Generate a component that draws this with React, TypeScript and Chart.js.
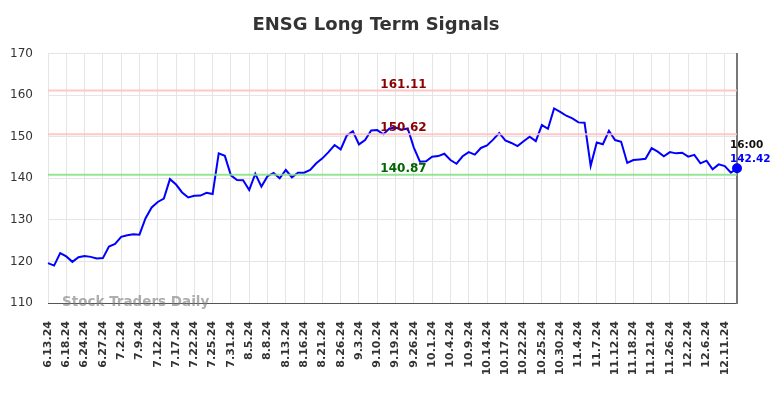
import React, { useEffect, useRef } from "react";
import { Chart, registerables } from "chart.js";

Chart.register(...registerables);

const chartTitle = "ENSG Long Term Signals";
const watermark = "Stock Traders Daily";
const lastTimeLabel = "16:00";

const dates = [
  "6.13.24", "6.14.24", "6.17.24", "6.18.24", "6.20.24", "6.21.24", "6.24.24", "6.25.24", "6.26.24", "6.27.24",
  "6.28.24", "7.1.24", "7.2.24", "7.3.24", "7.5.24", "7.9.24", "7.10.24", "7.11.24", "7.12.24", "7.15.24",
  "7.16.24", "7.17.24", "7.18.24", "7.19.24", "7.22.24", "7.23.24", "7.24.24", "7.25.24", "7.26.24", "7.29.24",
  "7.31.24", "8.1.24", "8.2.24", "8.5.24", "8.6.24", "8.7.24", "8.8.24", "8.9.24", "8.12.24", "8.13.24",
  "8.14.24", "8.15.24", "8.16.24", "8.19.24", "8.20.24", "8.21.24", "8.22.24", "8.23.24", "8.26.24", "8.27.24",
  "8.29.24", "9.3.24", "9.4.24", "9.6.24", "9.10.24", "9.12.24", "9.17.24", "9.19.24", "9.23.24", "9.24.24",
  "9.26.24", "9.27.24", "9.30.24", "10.1.24", "10.2.24", "10.3.24", "10.4.24", "10.7.24", "10.8.24", "10.9.24",
  "10.10.24", "10.11.24", "10.14.24", "10.15.24", "10.16.24", "10.17.24", "10.18.24", "10.21.24", "10.22.24", "10.23.24",
  "10.24.24", "10.25.24", "10.28.24", "10.29.24", "10.30.24", "10.31.24", "11.1.24", "11.4.24", "11.5.24", "11.6.24",
  "11.7.24", "11.8.24", "11.11.24", "11.12.24", "11.13.24", "11.15.24", "11.18.24", "11.19.24", "11.20.24", "11.21.24",
  "11.22.24", "11.25.24", "11.26.24", "11.27.24", "11.29.24", "12.2.24", "12.3.24", "12.4.24", "12.6.24", "12.9.24",
  "12.10.24", "12.11.24", "12.12.24", "12.13.24",
];

const prices = [
  119.6, 119.0, 122.0, 121.2, 119.9, 121.0, 121.3, 121.1, 120.7, 120.8,
  123.6, 124.2, 125.9, 126.3, 126.55, 126.45, 130.4, 133.0, 134.3, 135.1,
  139.8, 138.5, 136.6, 135.4, 135.8, 135.85, 136.5, 136.2, 146.0, 145.4,
  140.7, 139.6, 139.55, 137.2, 141.1, 138.0, 140.5, 141.3, 140.0, 142.0,
  140.25, 141.35, 141.35, 142.0, 143.6, 144.8, 146.3, 148.0, 146.95, 150.3,
  151.3, 148.15, 149.2, 151.5, 151.6, 150.6, 152.0, 152.2, 151.7, 152.0,
  147.4, 144.0, 144.1, 145.2, 145.35, 145.9, 144.4, 143.5, 145.3, 146.3,
  145.7, 147.3, 147.9, 149.3, 150.9, 149.1, 148.5, 147.75, 148.9, 150.0,
  148.95, 152.8, 151.9, 156.8, 156.0, 155.05, 154.4, 153.45, 153.35, 143.0,
  148.6, 148.2, 151.4, 149.2, 148.8, 143.7, 144.4, 144.55, 144.7, 147.25,
  146.4, 145.3, 146.3, 146.0, 146.15, 145.2, 145.65, 143.6, 144.25, 142.15,
  143.35, 142.95, 141.35, 142.42,
];

const resistanceHigh = 161.11;
const resistanceMid = 150.62;
const supportLevel = 140.87;

const yMin = 110;
const yMax = 170;
const yStep = 10;
const tickEvery = 3;

const FONT = "'DejaVu Sans', Verdana, sans-serif";

export default function App() {
  const canvasRef = useRef<HTMLCanvasElement | null>(null);

  useEffect(() => {
    if (!canvasRef.current) return;
    Chart.defaults.font.family = FONT;

    const levels = [
      { value: resistanceHigh, line: "rgba(255,190,190,0.85)", text: "#8b0000" },
      { value: resistanceMid, line: "rgba(255,190,190,0.85)", text: "#8b0000" },
      { value: supportLevel, line: "rgba(130,225,130,0.85)", text: "#006400" },
    ];

    const annotations = {
      id: "annotations",
      afterDatasetsDraw(chart: any) {
        const { ctx, chartArea, scales } = chart;
        const ys = scales.y;
        const xs = scales.x;
        ctx.save();
        ctx.font = `bold 12px ${FONT}`;
        ctx.textAlign = "center";
        ctx.textBaseline = "alphabetic";
        const cx = (chartArea.left + chartArea.right) / 2 + 11;
        levels.forEach((l) => {
          ctx.fillStyle = l.text;
          ctx.fillText(l.value.toFixed(2), cx, ys.getPixelForValue(l.value) - 3);
        });
        const li = prices.length - 1;
        const px = xs.getPixelForValue(li);
        const py = ys.getPixelForValue(prices[li]);
        ctx.font = `bold 10.5px ${FONT}`;
        ctx.textAlign = "left";
        ctx.fillStyle = "#111";
        ctx.fillText(lastTimeLabel, px - 7, py - 20);
        ctx.fillStyle = "#0000ff";
        ctx.fillText(prices[li].toFixed(2), px - 7, py - 6);
        ctx.font = `bold 13.5px ${FONT}`;
        ctx.fillStyle = "rgba(120,120,120,0.6)";
        ctx.textBaseline = "middle";
        ctx.fillText(watermark, chartArea.left + 14, chartArea.bottom - 1);
        ctx.restore();
      },
    };

    const levelDatasets = levels.map((l) => ({
      data: dates.map(() => l.value),
      borderColor: l.line,
      borderWidth: 2,
      pointRadius: 0,
      fill: false,
      tension: 0,
    }));

    const chart = new Chart(canvasRef.current, {
      type: "line",
      data: {
        labels: dates,
        datasets: [
          ...levelDatasets,
          {
            data: prices,
            borderColor: "#0000ff",
            backgroundColor: "#0000ff",
            borderWidth: 2,
            pointRadius: (c: any) => (c.dataIndex === prices.length - 1 ? 4 : 0),
            pointHoverRadius: 0,
            fill: false,
            tension: 0,
          },
        ],
      },
      options: {
        responsive: false,
        animation: false,
        layout: { padding: { left: 2, right: 34, bottom: 0, top: 0 } },
        plugins: {
          legend: { display: false },
          tooltip: { enabled: false },
          title: {
            display: true,
            text: chartTitle,
            color: "#333",
            font: { size: 18, weight: "bold", family: FONT },
            padding: { top: 7, bottom: 17 },
          },
        },
        scales: {
          x: {
            type: "category",
            afterBuildTicks: (scale: any) => {
              scale.ticks = scale.ticks.filter((_: any, i: number) => i % tickEvery === 0);
            },
            afterFit: (scale: any) => {
              scale.height = 87;
            },
            ticks: {
              autoSkip: false,
              minRotation: 90,
              maxRotation: 90,
              padding: 18,
              color: "#333",
              font: { size: 11, weight: "bold", family: FONT },
            },
            grid: { color: "#e5e5e5", drawTicks: false },
            border: { display: true, color: "#555", width: 1 },
          },
          y: {
            min: yMin,
            max: yMax,
            afterFit: (scale: any) => {
              scale.width = 38;
            },
            ticks: {
              stepSize: yStep,
              padding: 15,
              color: "#333",
              font: { size: 12, family: FONT },
            },
            grid: { color: "#e5e5e5", drawTicks: false },
            border: { display: false },
          },
          y2: {
            position: "right",
            min: yMin,
            max: yMax,
            ticks: { display: false },
            grid: { drawOnChartArea: false, color: "transparent", tickLength: 5 },
            border: { display: true, color: "#777", width: 2 },
          },
        },
      },
      plugins: [annotations],
    } as any);

    return () => chart.destroy();
  }, []);

  return (
    <div style={{ width: 768, height: 382 }}>
      <canvas ref={canvasRef} width={768} height={382} />
    </div>
  );
}
